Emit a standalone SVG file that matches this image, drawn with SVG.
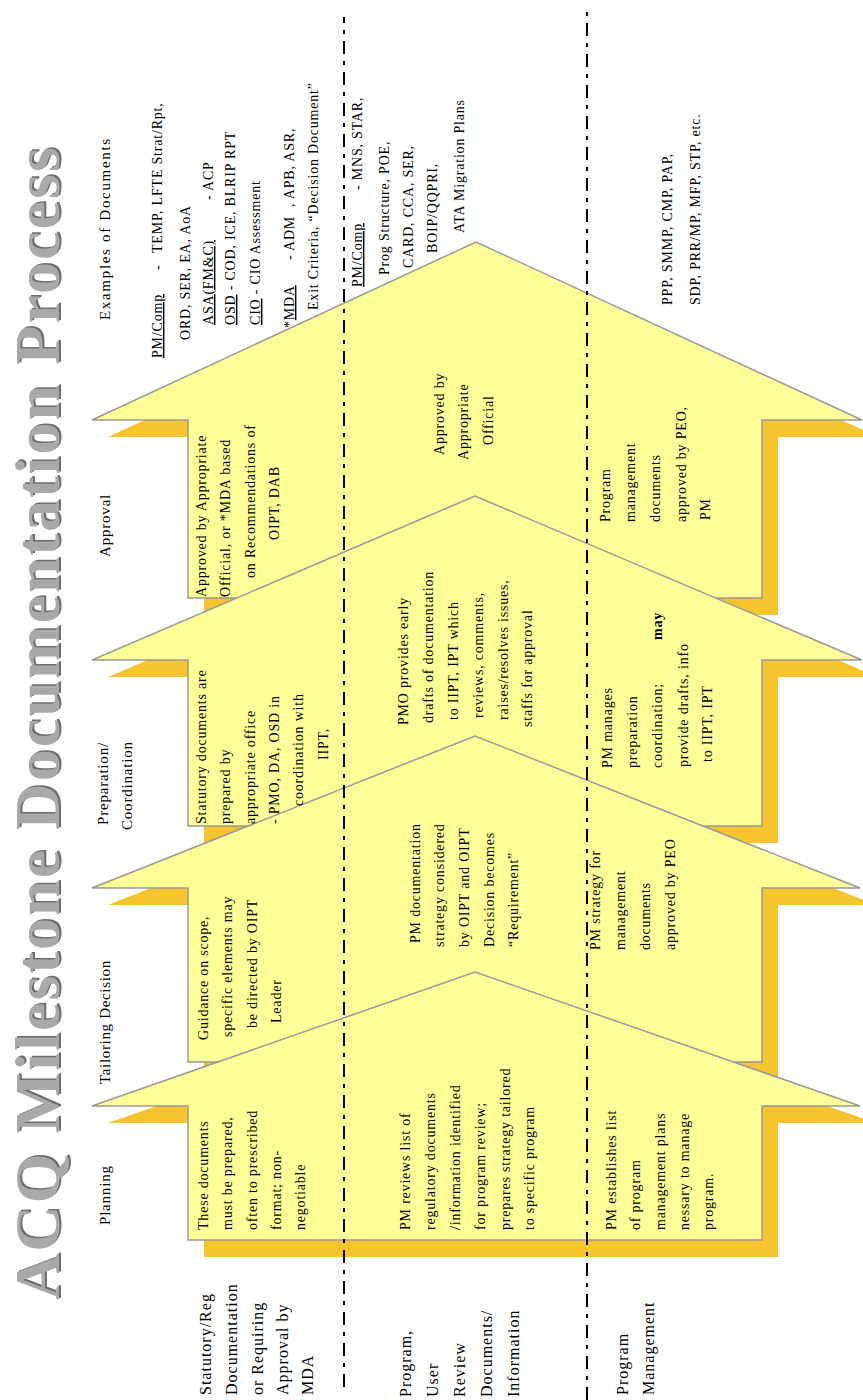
<svg xmlns="http://www.w3.org/2000/svg" width="863" height="1400" viewBox="0 0 863 1400">
<style>
.t{font-family:"Liberation Serif","Times New Roman",serif;font-size:14px;fill:#000;letter-spacing:0.8px}
.h{font-size:15px}
.r{font-size:16px;letter-spacing:1px}
.b{font-weight:bold}
.u{text-decoration:underline}
.arrow{fill:#FFFF99;stroke:#999;stroke-width:1.5}
.shadow{fill:#F6C42E}
.sep{stroke:#000;stroke-width:2;stroke-dasharray:13 7 4 7;fill:none}
.title{font-family:"Liberation Serif","Times New Roman",serif;font-weight:bold;font-size:64px}
</style>
<defs>
  <polygon id="a4" points="802,188 980,188 980,92 1158,476 980,862 980,762 802,762"/>
  <polygon id="a3" points="574,188 740,188 740,92 904,475 740,862 740,762 574,762"/>
  <polygon id="a2" points="338,188 512,188 512,92 664,475 512,860 512,762 338,762"/>
  <polygon id="a1" points="160,188 294,188 294,92 428,475 294,860 294,762 160,762"/>
</defs>
<rect width="863" height="1400" fill="#fff"/>
<g transform="translate(0,1400) rotate(-90)">
  <g id="title">
    <text class="title" x="101.5" y="61" fill="#6e6e6e" textLength="1153" lengthAdjust="spacing">ACQ Milestone Documentation Process</text>
    <text class="title" x="100" y="59" fill="#a9a9a9" textLength="1153" lengthAdjust="spacing">ACQ Milestone Documentation Process</text>
  </g>

  <g id="approval">
    <use href="#a4" class="shadow" transform="translate(-17,16)"/>
    <use href="#a4" class="arrow"/>
  </g>
  <g id="preparation">
    <use href="#a3" class="shadow" transform="translate(-17,16)"/>
    <use href="#a3" class="arrow"/>
  </g>
  <g id="tailoring">
    <use href="#a2" class="shadow" transform="translate(-17,16)"/>
    <use href="#a2" class="arrow"/>
  </g>
  <g id="planning">
    <use href="#a1" class="shadow" transform="translate(-17,16)"/>
    <use href="#a1" class="arrow"/>
  </g>

  <g id="approval-text">
    <text class="t" x="803" y="206">Approved by Appropriate</text>
    <text class="t" x="803" y="230">Official, or *MDA based</text>
    <text class="t" x="822" y="255">on Recommendations of</text>
    <text class="t" x="860" y="279">OIPT, DAB</text>
    <text class="t" x="945" y="444">Approved by</text>
    <text class="t" x="940" y="468">Appropriate</text>
    <text class="t" x="955" y="493">Official</text>
    <text class="t" x="878" y="610">Program</text>
    <text class="t" x="878" y="635">management</text>
    <text class="t" x="878" y="660">documents</text>
    <text class="t" x="878" y="686">approved by PEO,</text>
    <text class="t" x="880" y="710">PM</text>
  </g>

  <g id="preparation-text">
    <text class="t" x="576" y="206">Statutory documents are</text>
    <text class="t" x="576" y="230">prepared by</text>
    <text class="t" x="576" y="255">appropriate office</text>
    <text class="t" x="576" y="279">- PMO, DA, OSD in</text>
    <text class="t" x="594" y="303">coordination with</text>
    <text class="t" x="640" y="328">IIPT,</text>
    <text class="t" x="675" y="408">PMO provides early</text>
    <text class="t" x="677" y="433">drafts of documentation</text>
    <text class="t" x="680" y="458">to IIPT, IPT which</text>
    <text class="t" x="682" y="483">reviews, comments,</text>
    <text class="t" x="680" y="508">raises/resolves issues,</text>
    <text class="t" x="673" y="532">staffs for approval</text>
    <text class="t" x="632" y="612">PM manages</text>
    <text class="t" x="632" y="637">preparation</text>
    <text class="t" x="632" y="662">coordination;</text>
    <text class="t b" x="760" y="662">may</text>
    <text class="t" x="633" y="688">provide drafts, info</text>
    <text class="t" x="638" y="712">to IIPT, IPT</text>
  </g>

  <g id="tailoring-text">
    <text class="t" x="360" y="208">Guidance on scope,</text>
    <text class="t" x="363" y="232">specific elements may</text>
    <text class="t" x="372" y="257">be directed by OIPT</text>
    <text class="t" x="377" y="281">Leader</text>
    <text class="t" x="457" y="420">PM  documentation</text>
    <text class="t" x="453" y="444">strategy considered</text>
    <text class="t" x="453" y="469">by OIPT and OIPT</text>
    <text class="t" x="453" y="494">Decision becomes</text>
    <text class="t" x="453" y="518">“Requirement”</text>
    <text class="t" x="450" y="600">PM  strategy for</text>
    <text class="t" x="450" y="625">management</text>
    <text class="t" x="450" y="650">documents</text>
    <text class="t" x="450" y="675">approved by PEO</text>
  </g>

  <g id="planning-text">
    <text class="t" x="170" y="208">These documents</text>
    <text class="t" x="170" y="232">must be prepared,</text>
    <text class="t" x="170" y="257">often to prescribed</text>
    <text class="t" x="170" y="281">format; non-</text>
    <text class="t" x="170" y="305">negotiable</text>
    <text class="t" x="170" y="410">PM reviews list of</text>
    <text class="t" x="170" y="435">regulatory documents</text>
    <text class="t" x="170" y="460">/information identified</text>
    <text class="t" x="170" y="485">for program review;</text>
    <text class="t" x="170" y="510">prepares strategy tailored</text>
    <text class="t" x="170" y="534">to specific program</text>
    <text class="t" x="170" y="616">PM establishes list</text>
    <text class="t" x="170" y="640">of program</text>
    <text class="t" x="170" y="665">management plans</text>
    <text class="t" x="170" y="689">nessary to manage</text>
    <text class="t" x="170" y="713">program.</text>
  </g>

  <g id="connectors">
    <line class="sep" x1="13" y1="344" x2="1383" y2="344"/>
    <line class="sep" x1="0" y1="587" x2="1393" y2="587"/>
  </g>

  <g id="headers">
    <text class="t h" x="175" y="110">Planning</text>
    <text class="t h" x="316" y="110" textLength="124" lengthAdjust="spacing">Tailoring Decision</text>
    <text class="t h" x="575" y="108">Preparation/</text>
    <text class="t h" x="570" y="132">Coordination</text>
    <text class="t h" x="843" y="110">Approval</text>
    <text class="t h" x="1080" y="110" textLength="182" lengthAdjust="spacing">Examples of Documents</text>
  </g>

  <g id="row-labels">
    <text class="t r" x="5" y="211">Statutory/Reg</text>
    <text class="t r" x="5" y="237">Documentation</text>
    <text class="t r" x="5" y="263">or Requiring</text>
    <text class="t r" x="5" y="288">Approval by</text>
    <text class="t r" x="5" y="313">MDA</text>
    <text class="t r" x="3" y="411">Program,</text>
    <text class="t r" x="3" y="438">User</text>
    <text class="t r" x="3" y="465">Review</text>
    <text class="t r" x="3" y="492">Documents/</text>
    <text class="t r" x="3" y="519">Information</text>
    <text class="t r" x="5" y="628">Program</text>
    <text class="t r" x="5" y="654">Management</text>
  </g>

  <g id="examples">
    <text class="t" x="1042" y="162"><tspan class="u">PM/Comp</tspan><tspan x="1130">-</tspan><tspan x="1147">TEMP, LFTE Strat/Rpt,</tspan></text>
    <text class="t" x="1060" y="190">ORD, SER, EA, AoA</text>
    <text class="t" x="1075" y="213"><tspan class="u">ASA(FM&amp;C)</tspan><tspan x="1200">- ACP</tspan></text>
    <text class="t" x="1075" y="235"><tspan class="u">OSD</tspan> - COD, ICE, BLRIP RPT</text>
    <text class="t" x="1075" y="260"><tspan class="u">CIO</tspan>  - CIO Assessment</text>
    <text class="t" x="1072" y="294">*<tspan class="u">MDA</tspan><tspan x="1140">- ADM</tspan><tspan x="1193">, APB, ASR,</tspan></text>
    <text class="t" x="1090" y="318">Exit Criteria, “Decision Document”</text>
    <text class="t" x="1113" y="362"><tspan class="u">PM/Comp</tspan><tspan x="1210">- MNS, STAR,</tspan></text>
    <text class="t" x="1125" y="389">Prog Structure, POE,</text>
    <text class="t" x="1132" y="413">CARD, CCA, SER,</text>
    <text class="t" x="1147" y="437">BOIP/QQPRI,</text>
    <text class="t" x="1167" y="464">ATA Migration Plans</text>
    <text class="t" x="1095" y="672">PPP,  SMMP, CMP, PAP,</text>
    <text class="t" x="1095" y="700">SDP, PRR/MP, MFP, STP, etc.</text>
  </g>
</g>
</svg>
